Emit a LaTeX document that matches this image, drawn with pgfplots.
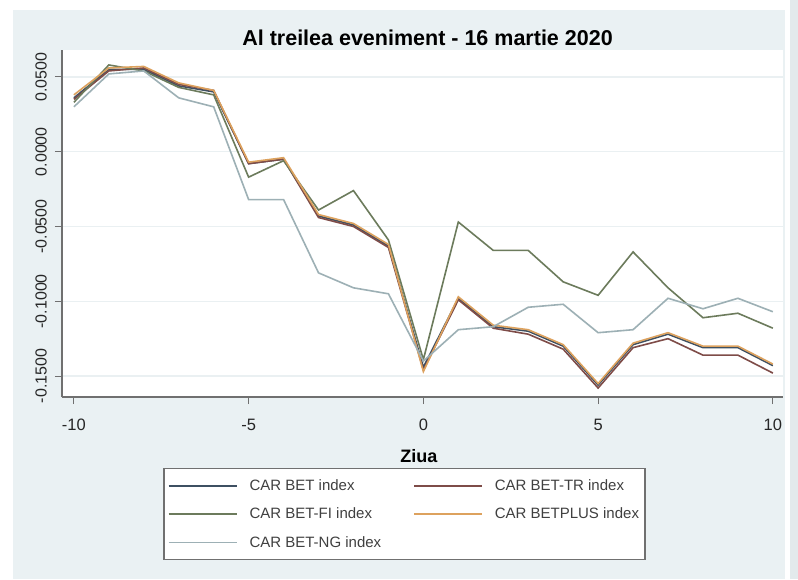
\documentclass[border=0pt]{standalone}
\usepackage{pgfplots}
\pgfplotsset{compat=1.18}
\usepackage{pgfplotstable}
\usepackage{fontspec}
\setmainfont{Liberation Sans}
\definecolor{bgc}{HTML}{EAF1F3}
\definecolor{edgec}{HTML}{E3EAEC}
\definecolor{gridc}{HTML}{EAF0F2}
\definecolor{cBET}{HTML}{3E5062}
\definecolor{cTR}{HTML}{7E4C48}
\definecolor{cFI}{HTML}{6C7B5C}
\definecolor{cPLUS}{HTML}{DDA25E}
\definecolor{cNG}{HTML}{9DB0B5}
\definecolor{axc}{HTML}{707070}
\pgfplotstableread{
d BET TR FI PLUS NG
-10 0.036 0.035 0.033 0.038 0.030
-9 0.055 0.054 0.058 0.056 0.052
-8 0.055 0.056 0.054 0.057 0.054
-7 0.044 0.045 0.043 0.046 0.036
-6 0.040 0.041 0.038 0.041 0.030
-5 -0.008 -0.008 -0.017 -0.007 -0.032
-4 -0.005 -0.005 -0.006 -0.004 -0.032
-3 -0.043 -0.044 -0.039 -0.042 -0.081
-2 -0.049 -0.050 -0.026 -0.048 -0.091
-1 -0.063 -0.064 -0.059 -0.062 -0.095
0 -0.144 -0.146 -0.139 -0.147 -0.140
1 -0.098 -0.099 -0.047 -0.097 -0.119
2 -0.117 -0.118 -0.066 -0.116 -0.117
3 -0.120 -0.122 -0.066 -0.119 -0.104
4 -0.130 -0.132 -0.087 -0.129 -0.102
5 -0.156 -0.158 -0.096 -0.155 -0.121
6 -0.129 -0.131 -0.067 -0.128 -0.119
7 -0.122 -0.125 -0.091 -0.121 -0.098
8 -0.131 -0.136 -0.111 -0.130 -0.105
9 -0.131 -0.136 -0.108 -0.130 -0.098
10 -0.143 -0.148 -0.118 -0.142 -0.107
}\datatab
\begin{document}
\begin{tikzpicture}
\fill[white] (0pt,0pt) rectangle (798pt,579pt);
\fill[bgc] (13pt,0pt) rectangle (785pt,569pt);
\fill[edgec] (790pt,0pt) rectangle (798pt,579pt);
\begin{axis}[
  at={(62pt,182pt)}, anchor=south west,
  width=721pt, height=347pt, scale only axis,
  xmin=-10.34, xmax=10.29, ymin=-0.164, ymax=0.068,
  axis background/.style={fill=white},
  axis x line*=bottom, axis y line*=left,
  axis line style={axc, line width=1.3pt, -},
  xtick={-10,-5,0,5,10},
  xticklabels={-10,-5,0,5,10},
  ytick={-0.15,-0.1,-0.05,0,0.05},
  yticklabels={-0.1500,-0.1000,-0.0500,0.0000,0.0500},
  tick style={axc, line width=1pt},
  tick align=outside, major tick length=7pt,
  ymajorgrids, grid style={gridc, line width=1.3pt},
  xticklabel style={font=\fontsize{16.5}{18}\selectfont, text=black!85, inner sep=2pt, yshift=-13pt},
  yticklabel style={font=\fontsize{16}{18}\selectfont, text=black!85, rotate=90, anchor=south, inner sep=2pt, yshift=6pt},
  title={\bfseries Al treilea eveniment - 16 martie 2020},
  title style={font=\fontsize{21.5}{23}\selectfont, at={(0.507,1)}, anchor=south, yshift=-5pt, inner sep=3pt},
  xlabel={\bfseries Ziua},
  xlabel style={font=\fontsize{18}{20}\selectfont, at={(0.495,0)}, anchor=north, yshift=-52pt, inner sep=0pt},
  legend columns=2,
  legend cell align=left,
  legend style={at={(0.475,-0.2046)}, anchor=north, draw=axc, line width=1.3pt, fill=white,
    font=\fontsize{15}{17}\selectfont, text=black!75,
    inner xsep=4pt, inner ysep=9pt, row sep=12pt,
    /tikz/every odd column/.append style={column sep=10pt},
    /tikz/every even column/.append style={column sep=30pt}},
  legend image code/.code={\draw[#1, line width=1.6pt] (0pt,0pt) -- (68pt,0pt);},
  every axis plot/.append style={line width=1.6pt},
]
\addplot[cBET] table[x=d,y=BET]{\datatab};
\addlegendentry{CAR BET index}
\addplot[cTR] table[x=d,y=TR]{\datatab};
\addlegendentry{CAR BET-TR index}
\addplot[cFI] table[x=d,y=FI]{\datatab};
\addlegendentry{CAR BET-FI index}
\addplot[cPLUS] table[x=d,y=PLUS]{\datatab};
\addlegendentry{CAR BETPLUS index}
\addplot[cNG] table[x=d,y=NG]{\datatab};
\addlegendentry{CAR BET-NG index}
\end{axis}
\end{tikzpicture}
\end{document}
